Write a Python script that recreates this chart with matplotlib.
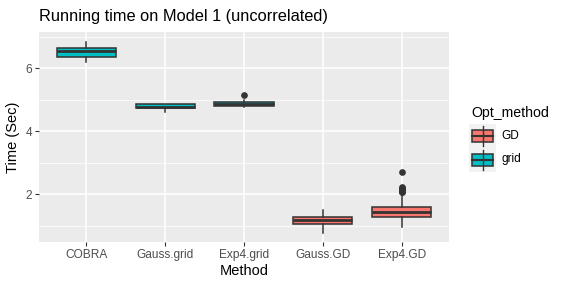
import matplotlib
matplotlib.use("Agg")
import matplotlib.pyplot as plt
from matplotlib.patches import Rectangle
from matplotlib.lines import Line2D

plt.rcParams['font.family'] = ['Liberation Sans', 'DejaVu Sans']

# box statistics
methods = ['COBRA', 'Gauss.grid', 'Exp4.grid', 'Gauss.GD', 'Exp4.GD']
opt = ['grid', 'grid', 'grid', 'GD', 'GD']
whislo = [6.19, 4.62, 4.76, 0.79, 0.97]
q1 = [6.35, 4.73, 4.81, 1.05, 1.27]
med = [6.56, 4.77, 4.87, 1.19, 1.44]
q3 = [6.63, 4.86, 4.93, 1.27, 1.59]
whishi = [6.83, 4.87, 4.99, 1.50, 2.03]
fliers = [[], [], [5.14], [], [2.06, 2.09, 2.12, 2.15, 2.18, 2.21, 2.24, 2.70]]

colors = {'GD': '#F8766D', 'grid': '#00BFC4'}
edge = '#333333'

W, H = 567, 288
fig = plt.figure(figsize=(W / 100, H / 100), dpi=100)
ax = fig.add_axes([39 / W, (H - 242) / H, 410 / W, 210 / H])
ax.set_facecolor('#EBEBEB')

stats = []
for i, m in enumerate(methods):
    stats.append(dict(label=m, whislo=whislo[i], q1=q1[i], med=med[i],
                      q3=q3[i], whishi=whishi[i], fliers=fliers[i]))

pos = list(range(1, len(methods) + 1))
bp = ax.bxp(stats, positions=pos, widths=0.75, patch_artist=True,
            showcaps=False, zorder=3,
            boxprops=dict(edgecolor=edge, linewidth=1.1),
            medianprops=dict(color=edge, linewidth=2.0),
            whiskerprops=dict(color=edge, linewidth=1.1),
            flierprops=dict(marker='o', markerfacecolor=edge,
                            markeredgecolor=edge, markersize=3.8))
for patch, o in zip(bp['boxes'], opt):
    patch.set_facecolor(colors[o])

ax.set_xlim(0.4, 5.6)
ax.set_ylim(0.49, 7.15)
ax.set_yticks([2, 4, 6])
ax.set_yticks([1, 3, 5, 7], minor=True)
ax.set_xticks(pos)
ax.set_xticklabels(methods)
ax.grid(which='major', color='white', linewidth=1.1, zorder=0)
ax.grid(which='minor', axis='y', color='white', linewidth=0.55, zorder=0)
ax.set_axisbelow(True)
for s in ax.spines.values():
    s.set_visible(False)
ax.tick_params(which='major', colors='#333333', length=3, width=0.8,
               labelsize=8.6, labelcolor='#4D4D4D', pad=2)
ax.tick_params(which='minor', length=0)

ax.set_xlabel('Method', fontsize=10.5, labelpad=2)
ax.set_ylabel('Time (Sec)', fontsize=10.5, labelpad=4)
fig.text(39 / W, 1 - 16 / H, 'Running time on Model 1 (uncorrelated)',
         fontsize=11.8, va='center', ha='left')

# legend
fig.text(471 / W, 1 - 113 / H, 'Opt_method', fontsize=10.2, va='center')
lax = fig.add_axes([469 / W, 1 - 172 / H, 27 / W, 48 / H])
lax.set_xlim(0, 1)
lax.set_ylim(0, 2)
lax.axis('off')
lax.add_patch(Rectangle((0, 0), 1, 2, facecolor='#F2F2F2', edgecolor='none'))
for k, o in enumerate(['GD', 'grid']):
    y0 = 1 - k
    lax.add_line(Line2D([0.5, 0.5], [y0 + 0.1, y0 + 0.9], color=edge, lw=1))
    lax.add_patch(Rectangle((0.12, y0 + 0.25), 0.76, 0.5,
                            facecolor=colors[o], edgecolor=edge, lw=1.1))
    lax.add_line(Line2D([0.12, 0.88], [y0 + 0.5, y0 + 0.5], color=edge, lw=1.5))
    fig.text(501 / W, 1 - (136 + 23 * k) / H, o, fontsize=8.6, va='center')

fig.savefig('out.png', dpi=100)
